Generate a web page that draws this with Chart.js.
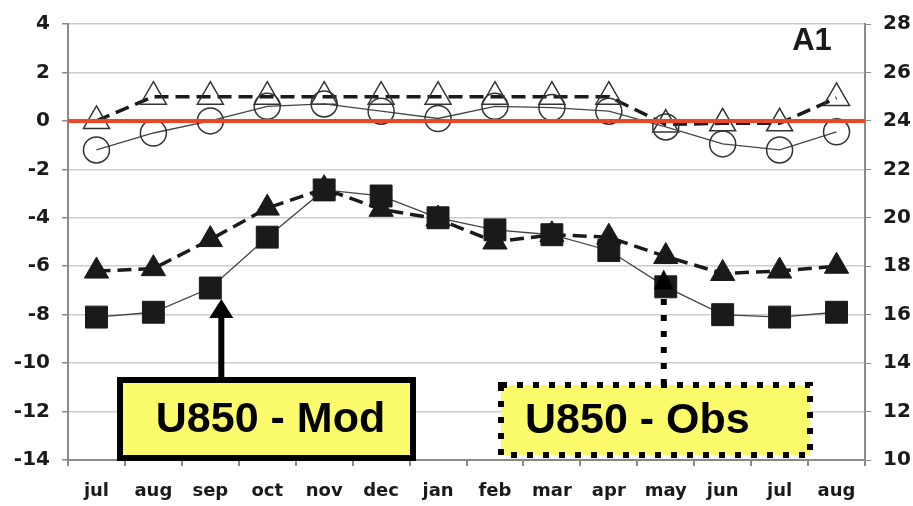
<!DOCTYPE html>
<html>
<head>
<meta charset="utf-8">
<script src="https://cdn.jsdelivr.net/npm/chart.js@4/dist/chart.umd.min.js"></script>
<style>
  html, body { margin: 0; padding: 0; background: #fff; }
  #wrap { width: 913px; height: 506px; }
</style>
</head>
<body>
<div id="wrap"><canvas id="main-chart"></canvas></div>
<script>
const months = ['jul', 'aug', 'sep', 'oct', 'nov', 'dec', 'jan', 'feb', 'mar', 'apr', 'may', 'jun', 'jul', 'aug'];

// U850 (left axis)
const u850Mod = [-8.1, -7.9, -6.9, -4.8, -2.85, -3.1, -4.0, -4.5, -4.7, -5.35, -6.85, -8.0, -8.1, -7.9];
const u850Obs = [-6.2, -6.1, -4.9, -3.6, -2.8, -3.65, -4.05, -5.0, -4.7, -4.8, -5.6, -6.3, -6.2, -6.0];

// upper pair (right axis)
const upperMod = [22.8, 23.5, 24.0, 24.6, 24.7, 24.4, 24.1, 24.6, 24.55, 24.4, 23.75, 23.05, 22.8, 23.55];
const upperObs = [24.0, 25.0, 25.0, 25.0, 25.0, 25.0, 25.0, 25.0, 25.0, 25.0, 23.85, 23.9, 23.9, 24.95];

const leftTicks = { min: -14, max: 4, step: 2 };
const rightTicks = { min: 10, max: 28, step: 2 };

const colors = {
  ink: '#1a1a1a',
  line: '#444444',
  grid: '#cccccc',
  axis: '#8a8a8a',
  zero: '#e8472a',
  box: '#fbfb6c',
};

const tickFont = { family: 'DejaVu Sans', size: 20, weight: 'bold' };

// zero line, "A1" tag, boxes and arrows
const overlay = {
  id: 'overlay',
  afterDatasetsDraw(chart) {
    const { ctx, chartArea: area, scales } = chart;
    const x = scales.x, y = scales.y;
    ctx.save();

    // red zero line
    const y0 = y.getPixelForValue(0);
    ctx.strokeStyle = colors.zero;
    ctx.lineWidth = 4;
    ctx.beginPath();
    ctx.moveTo(area.left, y0);
    ctx.lineTo(area.right, y0);
    ctx.stroke();

    // A1
    ctx.fillStyle = colors.ink;
    ctx.font = 'bold 31px "Liberation Sans"';
    ctx.textAlign = 'center';
    ctx.textBaseline = 'alphabetic';
    ctx.fillText('A1', area.right - 53, area.top + 26);

    // Mod arrow (solid) pointing at sep square
    const mx = x.getPixelForValue(2) + 11;
    const mTip = y.getPixelForValue(u850Mod[2]) + 11;
    const modBox = { l: 120, t: 380, r: 413, b: area.bottom - 2 };
    ctx.strokeStyle = '#000';
    ctx.fillStyle = '#000';
    ctx.lineWidth = 6;
    ctx.beginPath();
    ctx.moveTo(mx, modBox.t);
    ctx.lineTo(mx, mTip + 14);
    ctx.stroke();
    ctx.beginPath();
    ctx.moveTo(mx, mTip);
    ctx.lineTo(mx - 12, mTip + 19);
    ctx.lineTo(mx + 12, mTip + 19);
    ctx.closePath();
    ctx.fill();

    // Obs arrow (dotted) pointing at may triangle
    const ox = x.getPixelForValue(10) - 2;
    const oTip = y.getPixelForValue(u850Obs[10]) + 13;
    const obsBox = { l: 501, t: 385, r: 810, b: area.bottom - 5 };
    ctx.setLineDash([6, 10]);
    ctx.beginPath();
    ctx.moveTo(ox, obsBox.t);
    ctx.lineTo(ox, oTip + 18);
    ctx.stroke();
    ctx.setLineDash([]);
    ctx.beginPath();
    ctx.moveTo(ox, oTip);
    ctx.lineTo(ox - 10, oTip + 20);
    ctx.lineTo(ox + 10, oTip + 20);
    ctx.closePath();
    ctx.fill();

    // boxes
    ctx.fillStyle = colors.box;
    ctx.fillRect(modBox.l, modBox.t, modBox.r - modBox.l, modBox.b - modBox.t);
    ctx.lineWidth = 6;
    ctx.strokeRect(modBox.l, modBox.t, modBox.r - modBox.l, modBox.b - modBox.t);

    ctx.fillRect(obsBox.l, obsBox.t, obsBox.r - obsBox.l, obsBox.b - obsBox.t);
    ctx.setLineDash([6, 10]);
    ctx.strokeRect(obsBox.l, obsBox.t, obsBox.r - obsBox.l, obsBox.b - obsBox.t);
    ctx.setLineDash([]);

    ctx.fillStyle = '#000';
    ctx.font = 'bold 43px "Liberation Sans"';
    ctx.textAlign = 'center';
    ctx.textBaseline = 'middle';
    ctx.fillText('U850 - Mod', (modBox.l + modBox.r) / 2 + 4, (modBox.t + modBox.b) / 2 + 1);
    ctx.textAlign = 'left';
    ctx.fillText('U850 - Obs', obsBox.l + 24, (obsBox.t + obsBox.b) / 2 + 1);

    ctx.restore();
  }
};

new Chart(document.getElementById('main-chart'), {
  type: 'line',
  data: {
    labels: months,
    datasets: [
      {
        label: 'U850 - Mod',
        data: u850Mod,
        yAxisID: 'y',
        borderColor: colors.line,
        borderWidth: 1.3,
        pointStyle: 'rect',
        pointRadius: 15.5,
        pointBackgroundColor: colors.ink,
        pointBorderColor: colors.ink,
        pointBorderWidth: 1,
      },
      {
        label: 'U850 - Obs',
        data: u850Obs,
        yAxisID: 'y',
        borderColor: colors.ink,
        borderWidth: 3.5,
        borderDash: [14, 7],
        pointStyle: 'triangle',
        pointRadius: 14,
        pointBackgroundColor: colors.ink,
        pointBorderColor: colors.ink,
        pointBorderWidth: 1,
      },
      {
        label: 'upper Mod',
        data: upperMod,
        yAxisID: 'y1',
        borderColor: colors.line,
        borderWidth: 1.3,
        pointStyle: 'circle',
        pointRadius: 13,
        pointBackgroundColor: 'rgba(255,255,255,0)',
        pointBorderColor: '#333',
        pointBorderWidth: 1.5,
      },
      {
        label: 'upper Obs',
        data: upperObs,
        yAxisID: 'y1',
        borderColor: colors.ink,
        borderWidth: 3.5,
        borderDash: [14, 7],
        pointStyle: 'triangle',
        pointRadius: 15,
        pointBackgroundColor: 'rgba(255,255,255,0)',
        pointBorderColor: '#333',
        pointBorderWidth: 1.5,
      },
    ],
  },
  options: {
    responsive: true,
    maintainAspectRatio: false,
    animation: false,
    layout: { padding: { top: 19, left: 0, right: 0, bottom: 0 } },
    plugins: {
      legend: { display: false },
      tooltip: { enabled: false },
    },
    scales: {
      x: {
        offset: true,
        grid: { offset: true, drawOnChartArea: false, drawTicks: true, tickLength: 6, color: colors.axis, lineWidth: 2 },
        border: { color: colors.axis, width: 2 },
        ticks: { color: colors.ink, font: { family: 'DejaVu Sans', size: 18, weight: 'bold' }, padding: 15, maxRotation: 0, autoSkip: false },
        afterFit: s => { s.height = 46; },
      },
      y: {
        position: 'left',
        min: leftTicks.min,
        max: leftTicks.max,
        ticks: { stepSize: leftTicks.step, color: colors.ink, font: tickFont, padding: 12 },
        grid: { color: colors.grid, lineWidth: 1.5, tickColor: colors.axis, tickLength: 6 },
        border: { color: colors.axis, width: 2 },
        afterFit: s => { s.width = 68; },
      },
      y1: {
        position: 'right',
        min: rightTicks.min,
        max: rightTicks.max,
        ticks: { stepSize: rightTicks.step, color: colors.ink, font: tickFont, padding: 12 },
        grid: { drawOnChartArea: false, tickColor: colors.axis, tickLength: 6 },
        border: { color: colors.axis, width: 2 },
        afterFit: s => { s.width = 48; },
      },
    },
  },
  plugins: [overlay],
});
</script>
</body>
</html>
